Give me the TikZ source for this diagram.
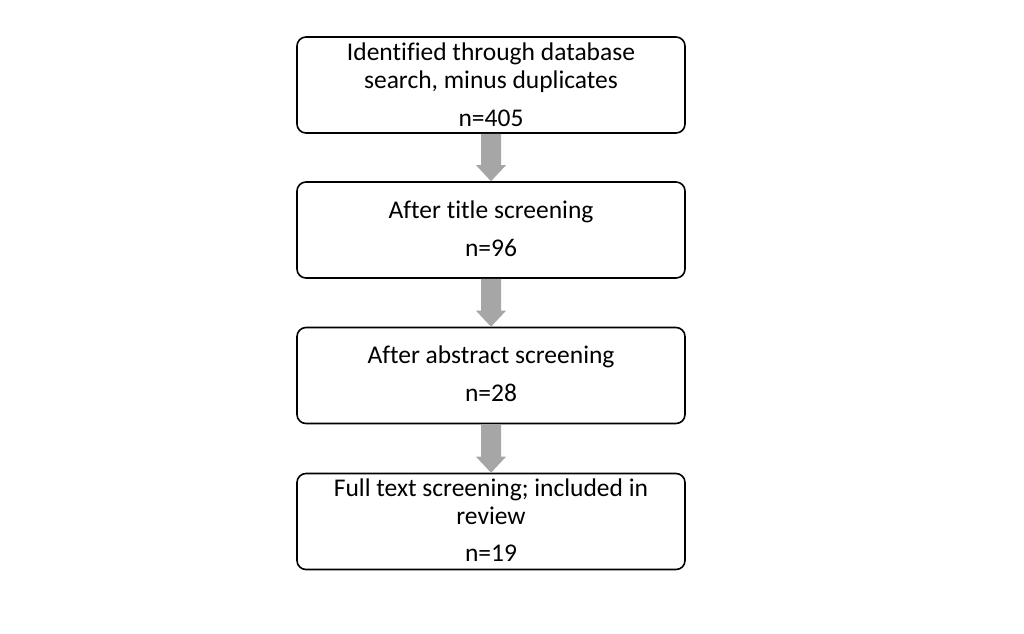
\documentclass[tikz,border=0pt]{standalone}
\usepackage{fontspec}
\setmainfont[Ligatures={NoCommon}]{Carlito}
\usetikzlibrary{calc}
\definecolor{arrgray}{HTML}{A6A6A6}
\tikzset{
  boxnode/.style={draw=black, line width=1.6pt, rounded corners=9pt, minimum width=388pt, minimum height=96pt, inner sep=0pt},
  txt/.style={font=\fontsize{25.5}{28}\selectfont, inner sep=0pt, anchor=base},
}
\newcommand{\blockarrow}[2]{%
  \fill[arrgray] ($(#1.south)+(-10pt,0)$) -- ($(#1.south)+(10pt,0)$) --
    ($(#2.north)+(10pt,16pt)$) -- ($(#2.north)+(15pt,16pt)$) -- (#2.north) --
    ($(#2.north)+(-15pt,16pt)$) -- ($(#2.north)+(-10pt,16pt)$) -- cycle;}
\begin{document}
\begin{tikzpicture}[x=1pt,y=-1pt]
\useasboundingbox (0,0) rectangle (1024,633);
\node[boxnode] (b1) at (491,85) {};
\node[boxnode] (b2) at (491,230) {};
\node[boxnode] (b3) at (491,375.5) {};
\node[boxnode] (b4) at (491,521.5) {};
\blockarrow{b1}{b2}
\blockarrow{b2}{b3}
\blockarrow{b3}{b4}
\node[txt] (t1a) at (491,60) {Identified through database};
\node[txt] (t1b) at (491,88) {search, minus duplicates};
\node[txt] (n1) at (491,126) {n=405};
\node[txt] (t2) at (491,218) {After title screening};
\node[txt] (n2) at (491,256) {n=96};
\node[txt] (t3) at (491,363) {After abstract screening};
\node[txt] (n3) at (491,401) {n=28};
\node[txt] (t4a) at (491,496) {Full text screening; included in};
\node[txt] (t4b) at (491,524) {review};
\node[txt] (n4) at (491,561) {n=19};
\end{tikzpicture}
\end{document}
